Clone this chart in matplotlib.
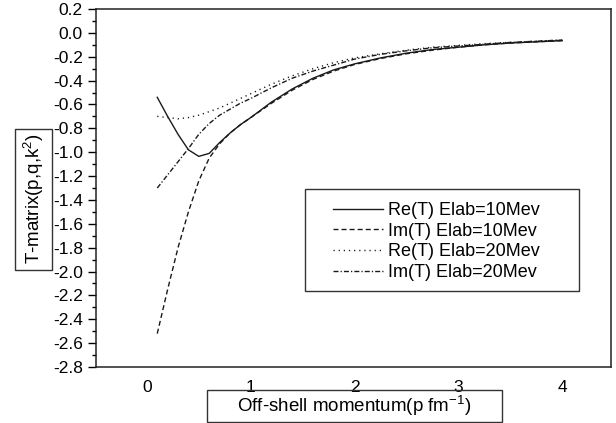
import matplotlib
matplotlib.use("Agg")
import matplotlib.pyplot as plt
from matplotlib.patches import Rectangle
from matplotlib.ticker import MultipleLocator, FuncFormatter

plt.rcParams['font.family'] = ['Liberation Sans', 'DejaVu Sans']
plt.rcParams['mathtext.fontset'] = 'custom'
plt.rcParams['mathtext.rm'] = 'Liberation Sans'
plt.rcParams['mathtext.it'] = 'Liberation Sans'
plt.rcParams['mathtext.bf'] = 'Liberation Sans:bold'
plt.rcParams['lines.scale_dashes'] = False

# momentum grid (fm^-1)
p = [0.1, 0.2, 0.3, 0.4, 0.5, 0.6, 0.7, 0.8, 0.9, 1.0, 1.2, 1.4, 1.6, 1.8,
     2.0, 2.25, 2.5, 2.75, 3.0, 3.25, 3.5, 3.75, 4.0]

re_t_10 = [-0.54, -0.70, -0.85, -0.98, -1.035, -1.01, -0.92, -0.84, -0.77, -0.71,
           -0.58, -0.47, -0.38, -0.31, -0.26, -0.21, -0.17, -0.14, -0.12, -0.10,
           -0.085, -0.075, -0.065]
im_t_10 = [-2.52, -2.15, -1.80, -1.50, -1.24, -1.05, -0.93, -0.84, -0.77, -0.71,
           -0.59, -0.48, -0.39, -0.32, -0.265, -0.215, -0.175, -0.145, -0.12, -0.10,
           -0.085, -0.075, -0.065]
re_t_20 = [-0.70, -0.71, -0.72, -0.71, -0.69, -0.66, -0.63, -0.59, -0.55, -0.51,
           -0.43, -0.36, -0.30, -0.25, -0.21, -0.175, -0.145, -0.12, -0.105, -0.09,
           -0.08, -0.07, -0.06]
im_t_20 = [-1.30, -1.19, -1.08, -0.97, -0.85, -0.76, -0.69, -0.64, -0.59, -0.55,
           -0.46, -0.38, -0.32, -0.27, -0.22, -0.18, -0.15, -0.125, -0.11, -0.095,
           -0.08, -0.07, -0.06]

labels = ['Re(T) Elab=10Mev', 'Im(T) Elab=10Mev', 'Re(T) Elab=20Mev', 'Im(T) Elab=20Mev']
x_ticks = [0, 1, 2, 3, 4]

W, H = 616, 423
fig = plt.figure(figsize=(W / 100, H / 100), dpi=100)
ax = fig.add_axes([96 / W, 1 - 367 / H, (611 - 96) / W, (367 - 9) / H])

lw = 1.0
col = '#1a1a1a'
ax.plot(p, re_t_10, color=col, lw=lw, ls='-', label=labels[0])
ax.plot(p, im_t_10, color=col, lw=lw, ls=(0, (3.6, 2.2)), label=labels[1])
ax.plot(p, re_t_20, color=col, lw=lw, ls=(0, (0.9, 2.8)), label=labels[2])
ax.plot(p, im_t_20, color=col, lw=lw, ls=(0, (3.6, 1.5, 0.9, 1.5)), label=labels[3])

ax.set_xlim(-0.49, 4.47)
ax.set_ylim(-2.8, 0.2)
ax.set_xticks(x_ticks)
ax.yaxis.set_major_locator(MultipleLocator(0.2))
ax.yaxis.set_minor_locator(MultipleLocator(0.1))
ax.yaxis.set_major_formatter(FuncFormatter(lambda v, pos: '%.1f' % (round(v, 1) + 0.0)))
ax.tick_params(axis='x', length=0, pad=9, labelsize=12.5)
ax.tick_params(axis='y', which='major', length=6, width=1, pad=3.5, labelsize=12.5, direction='out')
ax.tick_params(axis='y', which='minor', length=3, width=1, direction='out')
for s in ax.spines.values():
    s.set_linewidth(1.1)
    s.set_color('#222222')

# legend (frame drawn separately)
fig.patches.append(Rectangle((305 / W, 1 - 291 / H), (579 - 305) / W, (291 - 189) / H,
                             transform=fig.transFigure, fill=False,
                             edgecolor='#333333', lw=1.0))
leg = ax.legend(loc='upper left',
                bbox_to_anchor=(333 / W, 1 - 202 / H),
                bbox_transform=fig.transFigure,
                fontsize=13, frameon=False, handlelength=2.75, handletextpad=0.3,
                labelspacing=0.2, borderpad=0, borderaxespad=0)

# y label box
fig.patches.append(Rectangle((15 / W, 1 - 270 / H), 37 / W, 141 / H,
                             transform=fig.transFigure, fill=False,
                             edgecolor='#333333', lw=1.0))
fig.text(34 / W, 1 - 199 / H, 'T-matrix(p,q,k$^2$)', rotation=90,
         ha='center', va='center', fontsize=13.5)

# x label box
fig.patches.append(Rectangle((207 / W, 1 - 422 / H), 295 / W, 32 / H,
                             transform=fig.transFigure, fill=False,
                             edgecolor='#333333', lw=1.0))
fig.text(354 / W, 1 - 406 / H, 'Off-shell momentum(p fm$^{-1}$)',
         ha='center', va='center', fontsize=13.5)

fig.savefig('out.png', dpi=100)
